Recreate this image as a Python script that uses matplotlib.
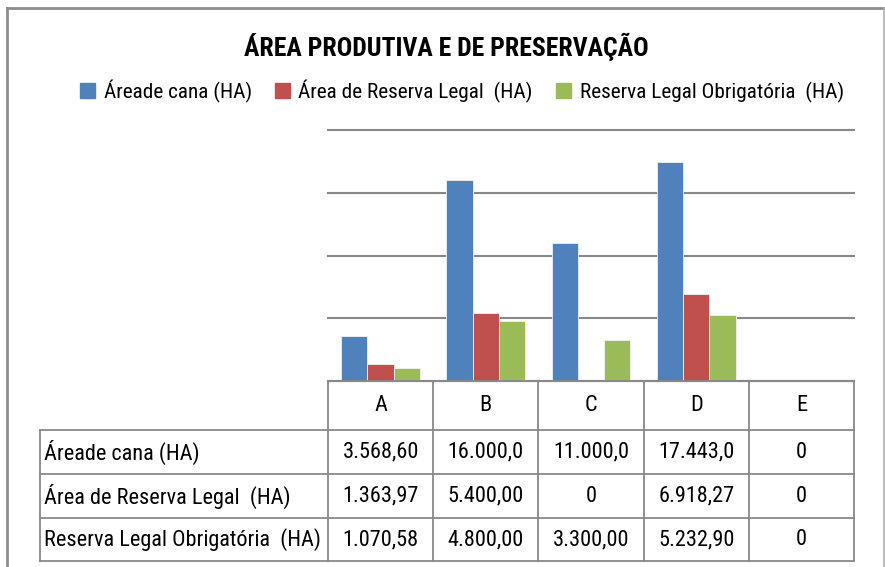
import numpy as np
import matplotlib
matplotlib.use('Agg')
import matplotlib.pyplot as plt
from matplotlib import font_manager
from matplotlib.patches import Rectangle

# procura uma fonte condensada, senão usa Liberation Sans
instaladas = {f.name for f in font_manager.fontManager.ttflist}
condensadas = ['Roboto Condensed', 'Liberation Sans Narrow', 'Open Sans Condensed',
               'Noto Sans Condensed', 'DejaVu Sans Condensed', 'Noto Sans Display Condensed']
fonte = None
for f in condensadas:
    if f in instaladas:
        fonte = f
        break
if fonte is None:
    fonte = 'Liberation Sans'
    esc = 0.85
else:
    esc = 1.0
plt.rcParams['font.family'] = [fonte, 'DejaVu Sans']

# Dados (como aparecem na tabela do gráfico)
categorias = ['A', 'B', 'C', 'D', 'E']
series = ['Áreade cana (HA)', 'Área de Reserva Legal  (HA)', 'Reserva Legal Obrigatória  (HA)']
area_cana = ['3.568,60', '16.000,0', '11.000,0', '17.443,0', '0']
reserva_legal = ['1.363,97', '5.400,00', '0', '6.918,27', '0']
reserva_obrigatoria = ['1.070,58', '4.800,00', '3.300,00', '5.232,90', '0']
cores = ['#4F81BD', '#C0504D', '#9BBB59']

tabela = [area_cana, reserva_legal, reserva_obrigatoria]


def para_numero(s):
    return float(s.replace('.', '').replace(',', '.'))


W, H = 885, 567
fig = plt.figure(figsize=(W / 100, H / 100), dpi=100)

# área do gráfico em pixels
x0, x1 = 328, 854
ytop, ybase = 130, 381
ax = fig.add_axes([x0 / W, 1 - ybase / H, (x1 - x0) / W, (ybase - ytop) / H])

n = np.arange(len(categorias))
largura = 0.25
for i, (nome, valores) in enumerate(zip(series, tabela)):
    alturas = [para_numero(v) for v in valores]
    ax.bar(n + (i - 1) * largura, alturas, largura, color=cores[i],
           edgecolor='#f2f2f2', linewidth=0.6, label=nome, zorder=3)

ax.set_xlim(-0.5, len(categorias) - 0.5)
ax.set_ylim(0, 20000)
ax.set_yticks(np.arange(0, 20001, 5000))
ax.yaxis.grid(True, color='#878787', linewidth=1.5, zorder=0)
for l in ax.get_ygridlines():
    l.set_clip_on(False)
ax.set_yticklabels([])
ax.tick_params(left=False, bottom=False, labelbottom=False)
for lado in ['left', 'right', 'top']:
    ax.spines[lado].set_visible(False)
ax.spines['bottom'].set_color('#878787')
ax.spines['bottom'].set_linewidth(1.5)
ax.patch.set_visible(False)

# camada em pixels para borda e tabela
ov = fig.add_axes([0, 0, 1, 1])
ov.set_xlim(0, W)
ov.set_ylim(H, 0)
ov.axis('off')
ov.patch.set_visible(False)

cinza = '#8c8c8c'
ov.plot([7, 7], [8, H], color=cinza, lw=2)
ov.plot([7, 884], [8, 8], color=cinza, lw=2)
ov.plot([884, 884], [8, H], color='#b0b0b0', lw=1.2)

fig.text(446 / W, 1 - 47 / H, 'ÁREA PRODUTIVA E DE PRESERVAÇÃO',
         ha='center', va='center', fontsize=18.5 * esc, fontweight='bold')

handles = [Rectangle((0, 0), 1, 1, color=c) for c in cores]
fig.legend(handles, series, loc='center', bbox_to_anchor=(462 / W, 1 - 91 / H),
           ncol=3, frameon=False, fontsize=15.3 * esc, handlelength=0.7, handleheight=0.7,
           handletextpad=0.4, columnspacing=1.1)

# tabela de dados
col_w = (x1 - x0) / len(categorias)
tab_left = 40
linhas_y = [381, 430, 474, 518, 561]
lc = '#898989'
tlw = 1.3
ov.plot([x0, x1], [linhas_y[0], linhas_y[0]], color=lc, lw=tlw)
for y in linhas_y[1:]:
    ov.plot([tab_left, x1], [y, y], color=lc, lw=tlw)
ov.plot([tab_left, tab_left], [linhas_y[1], linhas_y[-1]], color=lc, lw=tlw)
for j in range(len(categorias) + 1):
    xx = x0 + j * col_w
    ov.plot([xx, xx], [linhas_y[0], linhas_y[-1]], color=lc, lw=tlw)

fs_tab = 16 * esc
for j, cat in enumerate(categorias):
    ov.text(x0 + (j + 0.5) * col_w, (linhas_y[0] + linhas_y[1]) / 2, cat,
            ha='center', va='center', fontsize=fs_tab)

for i, (nome, valores) in enumerate(zip(series, tabela)):
    ym = (linhas_y[i + 1] + linhas_y[i + 2]) / 2
    ov.text(tab_left + 4, ym, nome, ha='left', va='center', fontsize=fs_tab)
    for j, v in enumerate(valores):
        ov.text(x0 + (j + 0.5) * col_w, ym, v, ha='center', va='center', fontsize=fs_tab)

fig.savefig('out.png', dpi=100)
